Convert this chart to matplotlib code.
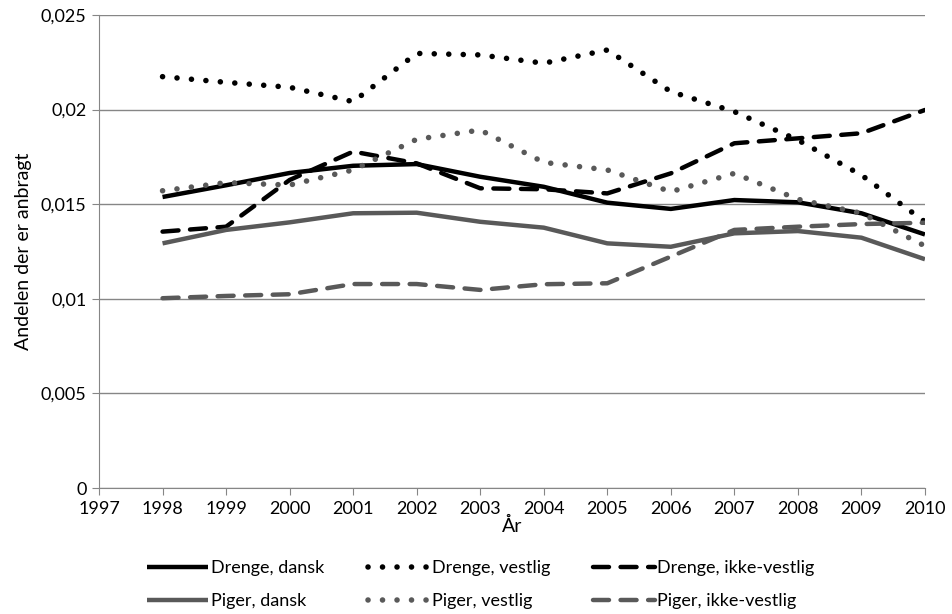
import matplotlib
matplotlib.use('Agg')
import matplotlib.pyplot as plt
from matplotlib.ticker import FuncFormatter, MultipleLocator

plt.rcParams['font.family'] = ['Lato', 'DejaVu Sans']

aar = [1998, 1999, 2000, 2001, 2002, 2003, 2004, 2005, 2006, 2007, 2008, 2009, 2010]

drenge_dansk = [0.01538, 0.0160, 0.01665, 0.01703, 0.01712, 0.01645, 0.01592, 0.01508,
                0.01475, 0.01522, 0.0151, 0.01452, 0.0134]
drenge_vestlig = [0.02174, 0.02144, 0.02118, 0.02042, 0.02297, 0.02289, 0.02245, 0.02315,
                  0.02095, 0.01989, 0.01839, 0.01654, 0.01407]
drenge_ikke_vestlig = [0.01355, 0.01381, 0.01628, 0.01778, 0.01716, 0.01584, 0.01579, 0.01557,
                       0.01663, 0.01822, 0.01848, 0.01875, 0.01998]
piger_dansk = [0.01293, 0.01364, 0.01404, 0.01452, 0.01455, 0.01407, 0.01376, 0.01293,
               0.01275, 0.01346, 0.01358, 0.01323, 0.01209]
piger_vestlig = [0.01571, 0.01614, 0.01601, 0.01681, 0.01843, 0.01892, 0.01721, 0.01681,
                 0.01566, 0.01663, 0.01526, 0.01452, 0.01279]
piger_ikke_vestlig = [0.01003, 0.01015, 0.01024, 0.01078, 0.01078, 0.01047, 0.01077, 0.01082,
                      0.01223, 0.01364, 0.01381, 0.01395, 0.01402]

sort = 'black'
graa = '#595959'
prik = (0, (0.01, 2.6))
streg = (0, (3.6, 2.6))

fig = plt.figure(figsize=(9.52, 6.14), dpi=100)
ax = fig.add_axes([0.104, 0.2052, 0.8676, 0.7704])

def tegn(y, farve, stil, navn):
    bredde = 4.0 if stil == prik else 3.2
    l, = ax.plot(aar, y, color=farve, linestyle=stil, lw=bredde, label=navn,
                 solid_capstyle='butt', dash_capstyle='round')
    return l

l1 = tegn(drenge_dansk, sort, '-', 'Drenge, dansk')
l2 = tegn(drenge_vestlig, sort, prik, 'Drenge, vestlig')
l3 = tegn(drenge_ikke_vestlig, sort, streg, 'Drenge, ikke-vestlig')
l4 = tegn(piger_dansk, graa, '-', 'Piger, dansk')
l5 = tegn(piger_vestlig, graa, prik, 'Piger, vestlig')
l6 = tegn(piger_ikke_vestlig, graa, streg, 'Piger, ikke-vestlig')

ax.set_xlim(1997, 2010)
ax.set_ylim(0, 0.025)
ax.xaxis.set_major_locator(MultipleLocator(1))
ax.yaxis.set_major_locator(MultipleLocator(0.005))
ax.yaxis.set_major_formatter(FuncFormatter(lambda v, p: '0' if v == 0 else ('%g' % round(v, 4)).replace('.', ',')))
ax.grid(axis='y', color='#868686', lw=1)
ax.set_axisbelow(True)
for s in ['top', 'right']:
    ax.spines[s].set_visible(False)
for s in ['left', 'bottom']:
    ax.spines[s].set_color('#868686')
ax.tick_params(color='#868686', length=5, labelsize=13, pad=4)
ax.set_xlabel('År', fontsize=14, labelpad=0)
ax.set_ylabel('Andelen der er anbragt', fontsize=14, labelpad=6)

fig.legend([l1, l4, l2, l5, l3, l6],
           [l.get_label() for l in [l1, l4, l2, l5, l3, l6]],
           ncol=3, loc='center', bbox_to_anchor=(0.505, 0.048), frameon=False,
           fontsize=13, handlelength=3.4, handletextpad=0.15, columnspacing=2.4,
           labelspacing=0.95)

fig.savefig('out.png', dpi=100)
